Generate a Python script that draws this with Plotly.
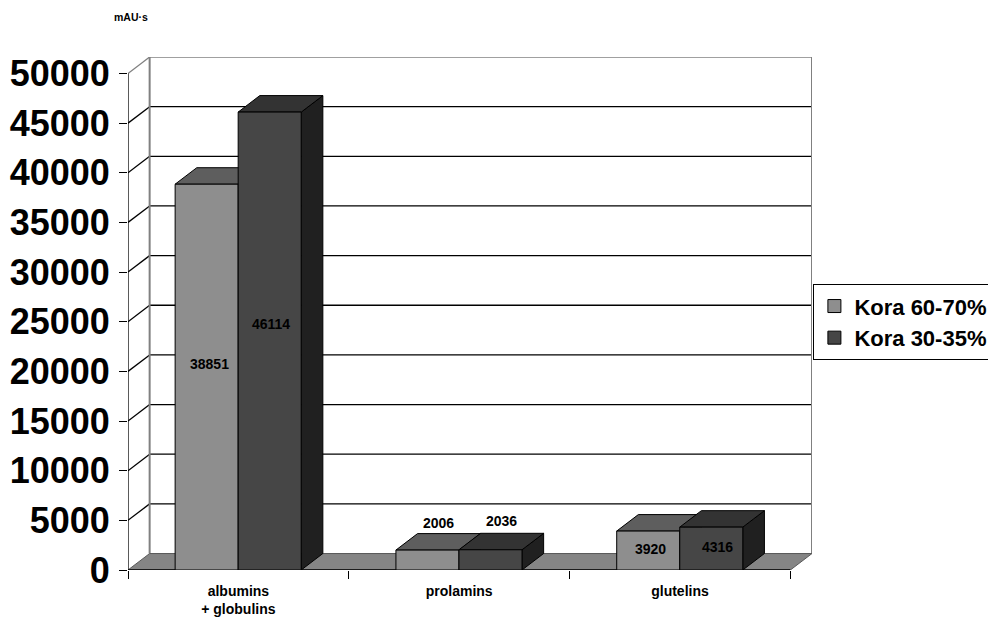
import plotly.graph_objects as go

# ---- data ----
categories = ["albumins<br>+ globulins", "prolamins", "glutelins"]
series_names = ["Kora 60-70%", "Kora 30-35%"]
kora_60_70 = [38851, 2006, 3920]
kora_30_35 = [46114, 2036, 4316]
y_ticks = [0, 5000, 10000, 15000, 20000, 25000, 30000, 35000, 40000, 45000, 50000]
y_tick_text = [str(v) for v in y_ticks]
unit_label = "mAU·s"

# ---- style / geometry ----
FONT = "Liberation Sans, Arial, sans-serif"
DX = 0.098          # depth offset in x units
DY = 1660           # depth offset in y units
BAR_W = 0.2855
BAR_START = 0.2135  # first bar left edge within category
YMAX = 50000
face_colors = [
    dict(front="#8e8e8e", top="#5e5e5e", side="#4a4a4a", legend="#8e8e8e"),
    dict(front="#464646", top="#333333", side="#202020", legend="#464646"),
]
# data-label positions (x in category units, y in value units)
label_pos_x = [[0.367, 1.405, 2.366], [0.648, 1.691, 2.670]]
label_pos_y = [[20733, 4730, 2113], [24758, 4932, 2315]]

ML, MR, MT, MB = 128, 176.4, 56.5, 48
PW = 988 - ML - MR
PH = 618 - MT - MB

fig = go.Figure()


def poly(xs, ys, fill, line="black", width=1):
    fig.add_trace(go.Scatter(
        x=list(xs) + [xs[0]], y=list(ys) + [ys[0]], mode="lines",
        fill="toself", fillcolor=fill, line=dict(color=line, width=width),
        hoverinfo="skip", showlegend=False, cliponaxis=False))


def seg(xs, ys, color, width=1):
    fig.add_trace(go.Scatter(
        x=xs, y=ys, mode="lines", line=dict(color=color, width=width),
        hoverinfo="skip", showlegend=False, cliponaxis=False))


ncat = len(categories)
# back wall gridlines and side-wall diagonals
for v in y_ticks[1:]:
    col = "#808080" if v == YMAX else "black"
    seg([DX, ncat + DX], [v + DY, v + DY], col, 1.3)
    seg([0, DX], [v, v + DY], col, 1.3)
# back wall verticals
seg([DX, DX], [DY, YMAX + DY], "#808080", 2)
seg([ncat + DX, ncat + DX], [DY, YMAX + DY], "#808080", 2)

# floor
poly([0, ncat, ncat + DX, DX], [0, 0, DY, DY], "#858585", line="#5a5a5a", width=1)

# axis lines
seg([0, 0], [0, YMAX], "black", 1.3)
seg([0, ncat], [0, 0], "black", 1.3)

# bars (3D faces)
series = [kora_60_70, kora_30_35]
for ci in range(ncat):
    for si, vals in enumerate(series):
        v = vals[ci]
        x0 = ci + BAR_START + si * BAR_W
        x1 = x0 + BAR_W
        c = face_colors[si]
        poly([x1, x1 + DX, x1 + DX, x1], [0, DY, v + DY, v], c["side"])
        poly([x0, x1, x1 + DX, x0 + DX], [v, v, v + DY, v + DY], c["top"])
        poly([x0, x1, x1, x0], [0, 0, v, v], c["front"])

# data labels
for si, vals in enumerate(series):
    for ci, v in enumerate(vals):
        fig.add_annotation(x=label_pos_x[si][ci], y=label_pos_y[si][ci], text=str(v),
                           showarrow=False, xref="x", yref="y",
                           font=dict(family=FONT, size=14, color="black", weight="bold"))

# legend entries
for si, name in enumerate(series_names):
    fig.add_trace(go.Scatter(
        x=[None], y=[None], mode="markers", name=name,
        marker=dict(symbol="square", size=13, color=face_colors[si]["legend"],
                    line=dict(color="black", width=1))))

# x-axis tick marks at category boundaries (secondary axis)
fig.add_trace(go.Scatter(x=[None], y=[None], xaxis="x2", showlegend=False, hoverinfo="skip"))

cat_centers = [i + 0.5 for i in range(ncat)]
fig.update_layout(
    width=988, height=618,
    margin=dict(l=ML, r=MR, t=MT, b=MB, autoexpand=False),
    paper_bgcolor="white", plot_bgcolor="white",
    font=dict(family=FONT, color="black"),
    showlegend=True,
    legend=dict(x=(813 - ML) / PW, xanchor="left", y=(570 - 322) / PH, yanchor="middle",
                bordercolor="black", borderwidth=1, bgcolor="white",
                font=dict(family=FONT, size=22, color="black", weight="bold"),
                itemwidth=30, tracegroupgap=0),
    xaxis=dict(range=[0, ncat + DX], tickvals=cat_centers, ticktext=categories,
               showgrid=False, zeroline=False, showline=False, ticks="",
               ticklabelstandoff=11, automargin=False,
               tickfont=dict(family=FONT, size=14, color="black", weight="bold")),
    xaxis2=dict(range=[0, ncat + DX], overlaying="x", anchor="y", side="bottom",
                tickvals=list(range(ncat + 1)), showticklabels=False,
                ticks="outside", ticklen=8, tickcolor="black", tickwidth=1.3,
                showgrid=False, zeroline=False, showline=False, automargin=False),
    yaxis=dict(range=[0, YMAX + DY], tickvals=y_ticks, ticktext=y_tick_text,
               ticks="outside", ticklen=8, tickcolor="black", tickwidth=1.3,
               showgrid=False, zeroline=False, showline=False,
               ticklabelstandoff=2, automargin=False,
               tickfont=dict(family=FONT, size=36, color="black", weight="bold")),
)
fig.add_annotation(x=(131 - ML) / PW, y=(570 - 16) / PH, xref="paper", yref="paper",
                   xanchor="center", yanchor="middle",
                   text=unit_label, showarrow=False,
                   font=dict(family=FONT, size=10.5, color="black", weight="bold"))

fig.write_html("out.html")
